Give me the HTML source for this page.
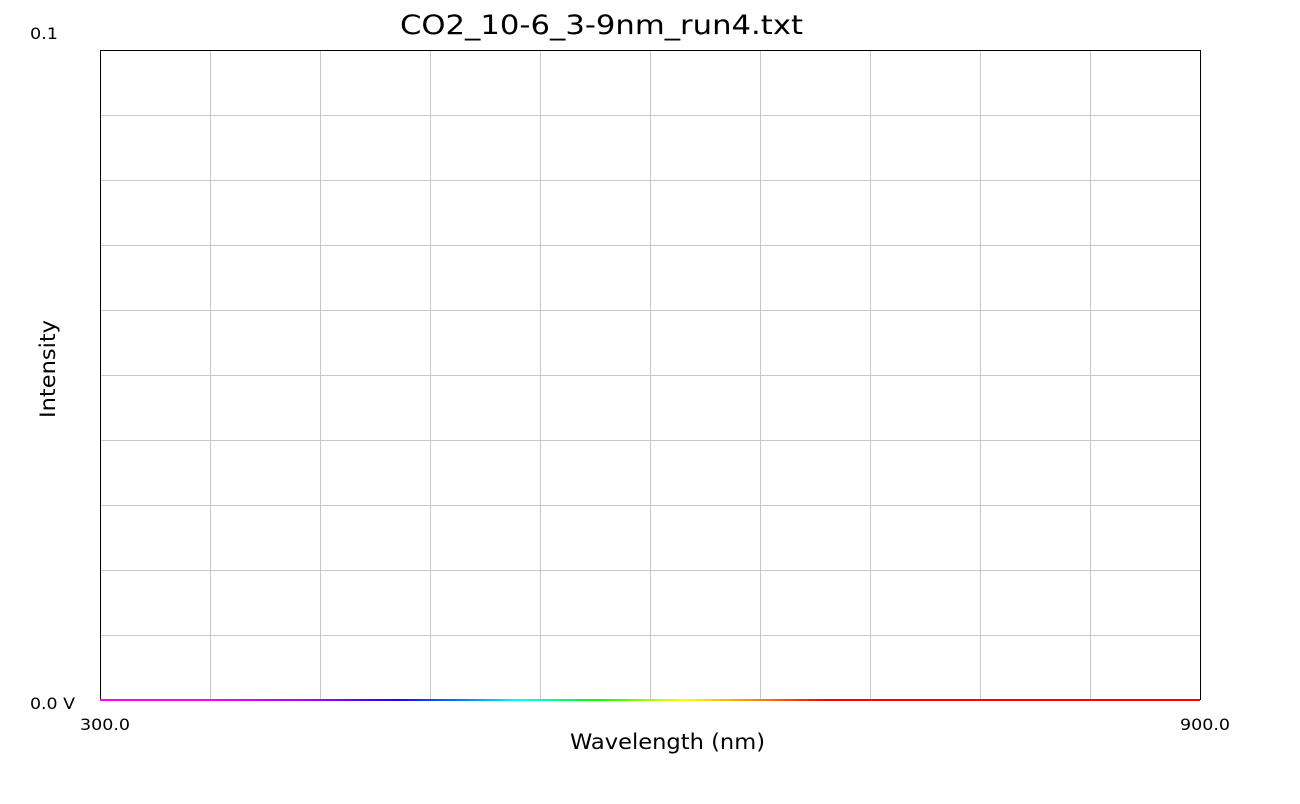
<!DOCTYPE html>
<html><head><meta charset="utf-8"><style>
body{margin:0;background:#fff;width:1300px;height:800px;overflow:hidden;font-family:"DejaVu Sans","Liberation Sans",sans-serif;}
</style></head><body>
<svg id="chart" width="1300" height="800" xmlns="http://www.w3.org/2000/svg">
<defs>
<linearGradient id="spec" x1="100" x2="1200" y1="0" y2="0" gradientUnits="userSpaceOnUse">
<stop offset="0" stop-color="#ff00ff"/>
<stop offset="0.1" stop-color="#ff00ff"/>
<stop offset="0.2" stop-color="#a000ff"/>
<stop offset="0.27" stop-color="#2000ff"/>
<stop offset="0.33" stop-color="#0080ff"/>
<stop offset="0.38" stop-color="#00ffff"/>
<stop offset="0.45" stop-color="#00ff00"/>
<stop offset="0.5" stop-color="#a0ff00"/>
<stop offset="0.53" stop-color="#ffff00"/>
<stop offset="0.6" stop-color="#ff8000"/>
<stop offset="0.66" stop-color="#ff0000"/>
<stop offset="1" stop-color="#ff0000"/>
</linearGradient>
</defs>
<g id="grid"></g>
<text x="400" y="34" font-size="27" textLength="403" lengthAdjust="spacingAndGlyphs" fill="#000">CO2_10-6_3-9nm_run4.txt</text>
<text x="30" y="39" font-size="16" textLength="28" lengthAdjust="spacingAndGlyphs">0.1</text>
<text x="30" y="709" font-size="16" textLength="45" lengthAdjust="spacingAndGlyphs">0.0 V</text>
<text x="80" y="730" font-size="16" textLength="50" lengthAdjust="spacingAndGlyphs">300.0</text>
<text x="1180" y="730" font-size="16" textLength="50" lengthAdjust="spacingAndGlyphs">900.0</text>
<text x="570" y="749" font-size="21" textLength="195" lengthAdjust="spacingAndGlyphs">Wavelength (nm)</text>
<text transform="translate(55,418) rotate(-90)" font-size="21" textLength="98" lengthAdjust="spacingAndGlyphs">Intensity</text>
<g id="frame">
<line x1="100.5" y1="50.5" x2="1200.5" y2="50.5" stroke="#000"/>
<line x1="100.5" y1="50" x2="100.5" y2="700" stroke="#000"/>
<line x1="1200.5" y1="50" x2="1200.5" y2="700" stroke="#000"/>
</g>
<polyline id="series" fill="none" stroke="url(#spec)" stroke-width="2"/>
</svg>
<script>
const wavelengths = [300, 400, 500, 600, 700, 800, 900];
const intensities = [0, 0, 0, 0, 0, 0, 0];
const yMin = 0, yMax = 0.1, xMin = 300, xMax = 900;
const L=100,R=1200,T=50,B=700;
const xs = v => L + (v - xMin) / (xMax - xMin) * (R - L);
const ys = v => B - (v - yMin) / (yMax - yMin) * (B - T);
const g = document.getElementById('grid');
const ns = 'http://www.w3.org/2000/svg';
for (let i = 1; i < 10; i++) {
  const x = L + i * (R - L) / 10;
  const l = document.createElementNS(ns, 'line');
  l.setAttribute('x1', x + 0.5); l.setAttribute('x2', x + 0.5);
  l.setAttribute('y1', T); l.setAttribute('y2', B);
  l.setAttribute('stroke', '#c8c8c8');
  
  
  g.appendChild(l);
  const y = T + i * (B - T) / 10;
  const h = document.createElementNS(ns, 'line');
  h.setAttribute('x1', L); h.setAttribute('x2', R);
  h.setAttribute('y1', y + 0.5); h.setAttribute('y2', y + 0.5);
  h.setAttribute('stroke', '#c8c8c8');
  
  
  g.appendChild(h);
}
const pts = wavelengths.map((w, i) => xs(w) + ',' + ys(intensities[i])).join(' ');
document.getElementById('series').setAttribute('points', pts);
</script>
</body></html>
